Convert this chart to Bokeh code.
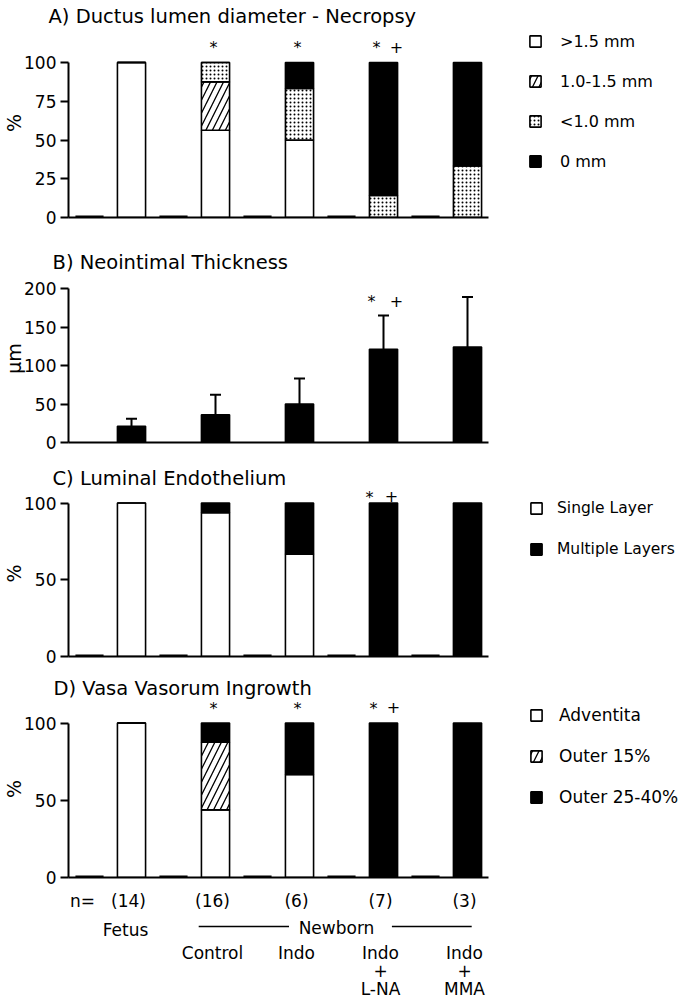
import numpy as np
from bokeh.plotting import figure
from bokeh.layouts import column
from bokeh.models import (Range1d, Label, Legend, LegendItem, Whisker, TeeHead,
                          ColumnDataSource, FixedTicker)
from bokeh.core.properties import value
from bokeh.embed import file_html
from bokeh.resources import INLINE

# ---------------- data ----------------
groups = ["Fetus", "Control", "Indo", "Indo + L-NA", "Indo + MMA"]
n_animals = [14, 16, 6, 7, 3]

# A) Ductus lumen diameter - Necropsy (% of animals)
a_gt15 = [100, 56.25, 50.0, 0, 0]
a_10_15 = [0, 31.25, 0, 0, 0]
a_lt10 = [0, 12.5, 33.3, 14.3, 33.3]
a_zero = [0, 0, 16.7, 85.7, 66.7]
a_labels = [">1.5 mm", "1.0-1.5 mm", "<1.0 mm", "0 mm"]
a_ticks = [0, 25, 50, 75, 100]

# B) Neointimal thickness (µm), mean and SD
b_mean = [21, 36, 50, 121, 124]
b_sd = [10, 26, 33, 44, 65]
b_ticks = [0, 50, 100, 150, 200]

# C) Luminal endothelium (%)
c_single = [100, 93.75, 66.7, 0, 0]
c_multi = [0, 6.25, 33.3, 100, 100]
c_labels = ["Single Layer", "Multiple Layers"]
c_ticks = [0, 50, 100]

# D) Vasa vasorum ingrowth (%)
d_adv = [100, 43.75, 66.7, 0, 0]
d_o15 = [0, 43.75, 0, 0, 0]
d_o2540 = [0, 12.5, 33.3, 100, 100]
d_labels = ["Adventita", "Outer 15%", "Outer 25-40%"]
d_ticks = [0, 50, 100]

titles = ["A) Ductus lumen diameter - Necropsy", "B) Neointimal Thickness",
          "C) Luminal Endothelium", "D) Vasa Vasorum Ingrowth"]

# significance marks: "*" vs fetus/control, "+" vs Indo
star_a = [False, True, True, True, False]
plus_a = [False, False, False, True, False]
star_b = [False, False, False, True, False]
plus_b = [False, False, False, True, False]
star_c = [False, False, False, True, False]
plus_c = [False, False, False, True, False]
star_d = [False, True, True, True, False]
plus_d = [False, False, False, True, False]

# ---------------- layout ----------------
FONT = "DejaVu Sans"
FIG_W = 685
FRAME_L = 68          # left edge of plotting area (px)
SLOT_PX = 42          # px per x unit
X0 = -0.5
x_range = Range1d(X0, X0 + (FIG_W - FRAME_L) / SLOT_PX)
X_END = 9.5

bar_x = [2 * i + 1 for i in range(len(groups))]
gap_x = [2 * i for i in range(len(groups))]
BAR_W = 0.67


def cum(*series):
    out, base = [], np.zeros(len(series[0]))
    for s in series:
        top = base + np.array(s, dtype=float)
        out.append((base.copy(), top))
        base = top
    return out


def make_fig(fig_top, fig_h, frame_top, base_px, top_px, v1, ticks, ylabel, title, title_x):
    # value 0 at base_px, value v1 at top_px (page pixels)
    scale = (base_px - top_px) / v1
    y1 = v1 + (top_px - frame_top) / scale
    p = figure(width=FIG_W, height=fig_h, x_range=x_range, y_range=Range1d(0, y1),
               output_backend="svg", toolbar_location=None,
               min_border_left=FRAME_L, min_border_right=0, min_border_top=frame_top - fig_top,
               min_border_bottom=fig_top + fig_h - base_px,
               x_axis_location="below", y_axis_location="left")
    p.title.text = title
    p.title.align = "left"
    p.title.offset = title_x - FRAME_L
    p.title.standoff = 0
    p.title.vertical_align = "middle"
    p.title.text_font = FONT
    p.title.text_font_size = "19.5px"
    p.title.text_font_style = "normal"
    p.title.text_color = "black"
    p.outline_line_color = None
    p.grid.visible = False
    p.background_fill_color = "white"
    p.border_fill_color = "white"
    ax = p.yaxis[0]
    ax.ticker = FixedTicker(ticks=ticks)
    ax.bounds = (0, v1)
    ax.major_tick_out = 8
    ax.major_tick_in = 0
    ax.minor_tick_line_color = None
    ax.axis_line_width = 2
    ax.major_tick_line_width = 2
    ax.major_label_text_font = FONT
    ax.major_label_text_font_size = "17px"
    ax.major_label_text_color = "black"
    ax.major_label_standoff = 4
    ax.axis_label = ylabel
    ax.axis_label_text_font = FONT
    ax.axis_label_text_font_size = "19px"
    ax.axis_label_text_font_style = "normal"
    ax.axis_label_text_color = "black"
    ax.axis_label_standoff = -4
    xa = p.xaxis[0]
    xa.ticker = FixedTicker(ticks=[])
    xa.bounds = (X0, X_END)
    xa.axis_line_width = 2
    xa.major_tick_out = 0
    xa.major_tick_in = 0
    xa.minor_tick_out = 0
    xa.minor_tick_in = 0
    xa.major_label_standoff = 0
    xa.major_label_text_font_size = "0px"
    p._base = base_px
    return p


def marks(p, flags, symbol, py, dx, pair_dx):
    # dx: offset when alone, pair_dx: offset when both marks are shown
    for x, f in zip(bar_x, flags):
        pass
    return None


def sig(p, star, plus, py_star, py_plus, star_dx, plus_dx):
    for x, s, q in zip(bar_x, star, plus):
        if s:
            p.add_layout(Label(x=x, y=p._base - py_star, x_units="data", y_units="screen",
                               x_offset=star_dx if q else -2, text="*", text_font=FONT,
                               text_font_size="16px", text_align="center", text_baseline="middle",
                               text_color="black"))
        if q:
            p.add_layout(Label(x=x, y=p._base - py_plus, x_units="data", y_units="screen",
                               x_offset=plus_dx, text="+", text_font=FONT,
                               text_font_size="16px", text_align="center", text_baseline="middle",
                               text_color="black"))


def gap_marks(p):
    p.segment(x0=[g - BAR_W / 2 for g in gap_x], x1=[g + BAR_W / 2 for g in gap_x],
              y0=[0] * len(gap_x), y1=[0] * len(gap_x), line_width=4, line_color="black")


STYLES = {
    "white": dict(fill_color="white"),
    "hatch": dict(fill_color="white", hatch_pattern="/", hatch_scale=13, hatch_weight=1.3,
                  hatch_color="black"),
    "dots": dict(fill_color="white", hatch_pattern=".", hatch_scale=4, hatch_weight=1.3,
                 hatch_color="black"),
    "black": dict(fill_color="black"),
}


def stack(p, series, styles, labels, loc, spacing, font_size="16px", standoff=18):
    items = []
    for (b, t), st, lab in zip(cum(*series), styles, labels):
        r = p.vbar(x=bar_x, width=BAR_W, bottom=b, top=t, line_color="black", line_width=1.6,
                   **STYLES[st])
        items.append(LegendItem(label=lab, renderers=[r]))
    leg = Legend(items=items, location=loc, orientation="vertical", glyph_width=14, glyph_height=14,
                 label_text_font=FONT, label_text_font_size=font_size, label_text_color="black",
                 label_height=20, label_standoff=standoff, spacing=spacing, padding=0, margin=0,
                 border_line_color=None, background_fill_alpha=0)
    p.add_layout(leg)


# ---- Panel A ----
pA = make_fig(0, 229, 28, 217, 62, 100, a_ticks, "%", titles[0], 48)
gap_marks(pA)
stack(pA, [a_gt15, a_10_15, a_lt10, a_zero], ["white", "hatch", "dots", "black"], a_labels,
      (460, 217 - 171), 20)
sig(pA, star_a, plus_a, 47, 46, -7, 13)

# ---- Panel B ----
pB = make_fig(229, 226, 274, 442, 288, 200, b_ticks, "µm", titles[1], 52)
pB.vbar(x=bar_x, width=BAR_W, bottom=0, top=b_mean, fill_color="black", line_color="black",
        line_width=1.6)
src = ColumnDataSource(dict(x=bar_x, lo=b_mean, hi=[m + s for m, s in zip(b_mean, b_sd)]))
pB.add_layout(Whisker(source=src, base="x", lower="lo", upper="hi", line_width=2, line_color="black",
                      upper_head=TeeHead(size=11, line_width=2, line_color="black"), lower_head=None))
sig(pB, star_b, plus_b, 301, 300, -12, 13)

# ---- Panel C ----
pC = make_fig(455, 214, 490, 656, 502.5, 100, c_ticks, "%", titles[2], 52)
gap_marks(pC)
stack(pC, [c_single, c_multi], ["white", "black"], c_labels, (461, 656 - 559), 21, "15.5px", 14)
sig(pC, star_c, plus_c, 497, 495, -14, 8)

# ---- Panel D ----
pD = make_fig(669, 220, 700, 877, 722.5, 100, d_ticks, "%", titles[3], 53)
gap_marks(pD)
stack(pD, [d_adv, d_o15, d_o2540], ["white", "hatch", "black"], d_labels, (461, 877 - 807), 21,
      "17px", 16)
sig(pD, star_d, plus_d, 708, 706, -10, 10)

# ---- Bottom labels (own figure, shares x scale) ----
E_H = 110
pE = figure(width=FIG_W, height=E_H, x_range=x_range, y_range=Range1d(E_H, 0),
            output_backend="svg", toolbar_location=None, min_border_left=FRAME_L, min_border_right=0,
            min_border_top=0, min_border_bottom=0, x_axis_location=None, y_axis_location=None)
pE.outline_line_color = None
pE.grid.visible = False
pE.border_fill_color = "white"
pE.background_fill_color = "white"
TXT = dict(text_font=value(FONT), text_font_size="17px", text_align="center", text_color="black")
pE.text(x=[gap_x[0]], y=[11], text=["n="], text_baseline="middle", x_offset=-7, **TXT)
pE.text(x=bar_x, y=[11] * len(bar_x), text=[f"({n})" for n in n_animals], text_baseline="middle",
        x_offset=-3, **TXT)
pE.text(x=[bar_x[0]], y=[40], text=[groups[0]], text_baseline="middle", x_offset=-6, **TXT)
newborn_x = float(np.mean(bar_x[1:]))
pE.text(x=[newborn_x], y=[38], text=["Newborn"], text_baseline="middle", x_offset=-5, **TXT)
pE.segment(x0=[bar_x[1] - 0.4, newborn_x + 1.2], x1=[newborn_x - 1.25, bar_x[4] + 0.1],
           y0=[37, 37], y1=[37, 37], line_width=1.5, line_color="black")
pE.text(x=bar_x[1:], y=[53] * 4, text=[g.replace(" + ", "\n+\n") for g in groups[1:]],
        text_baseline="top", text_line_height=0.9, x_offset=-3, **TXT)

layout = column(pA, pB, pC, pD, pE, spacing=0)
open("out.html", "w").write(file_html(layout, INLINE))
